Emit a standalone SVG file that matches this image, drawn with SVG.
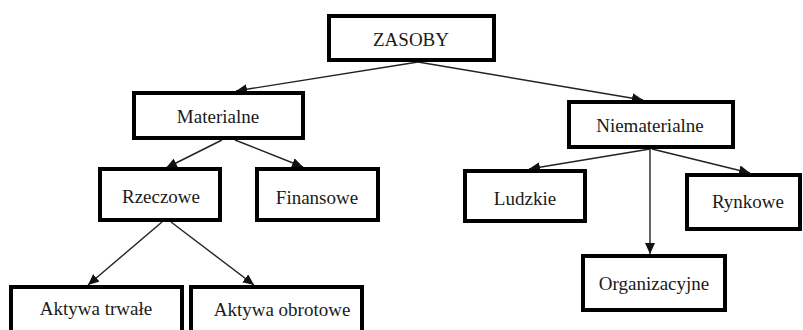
<svg xmlns="http://www.w3.org/2000/svg" width="803" height="330" viewBox="0 0 803 330">
  <style>
    .box { fill: #ffffff; stroke: #000000; stroke-width: 4; }
    .lbl { font-family: "Liberation Serif", "Times New Roman", Times, "DejaVu Serif", serif; font-size: 19px; fill: #1a1a1a; text-anchor: middle; }
    .edge { stroke: #222222; stroke-width: 1.4; fill: none; marker-end: url(#arrow); }
  </style>
  <defs>
    <marker id="arrow" markerUnits="userSpaceOnUse" markerWidth="12" markerHeight="10" refX="11" refY="5" orient="auto">
      <path d="M0,0 L11,5 L0,10 Z" fill="#111111"/>
    </marker>
  </defs>
  <rect width="803" height="330" fill="#ffffff"/>

  <g id="connectors">
    <line class="edge" x1="418" y1="62" x2="236" y2="91"/>
    <line class="edge" x1="418" y1="62" x2="643" y2="100"/>
    <line class="edge" x1="222" y1="140" x2="166" y2="168"/>
    <line class="edge" x1="235" y1="140" x2="303" y2="167"/>
    <line class="edge" x1="162" y1="222" x2="88" y2="285"/>
    <line class="edge" x1="171" y1="222" x2="254" y2="285"/>
    <line class="edge" x1="650" y1="149" x2="529" y2="169"/>
    <line class="edge" x1="652" y1="149" x2="750" y2="173"/>
    <line class="edge" x1="650" y1="149" x2="650" y2="254"/>
  </g>

  <g id="zasoby">
    <rect class="box" x="329" y="16" width="165" height="44"/>
    <text class="lbl" x="411" y="46">ZASOBY</text>
  </g>
  <g id="materialne">
    <rect class="box" x="134" y="93" width="169" height="45"/>
    <text class="lbl" x="218" y="123">Materialne</text>
  </g>
  <g id="rzeczowe">
    <rect class="box" x="100" y="169" width="120" height="51"/>
    <text class="lbl" x="161" y="203">Rzeczowe</text>
  </g>
  <g id="finansowe">
    <rect class="box" x="257" y="169" width="121" height="51"/>
    <text class="lbl" x="317" y="204">Finansowe</text>
  </g>
  <g id="aktywa-trwale">
    <rect class="box" x="11" y="287" width="171" height="60"/>
    <text class="lbl" x="96" y="315">Aktywa trwałe</text>
  </g>
  <g id="aktywa-obrotowe">
    <rect class="box" x="191" y="287" width="171" height="60"/>
    <text class="lbl" x="282" y="316">Aktywa obrotowe</text>
  </g>
  <g id="niematerialne">
    <rect class="box" x="569" y="102" width="164" height="45"/>
    <text class="lbl" x="650" y="132">Niematerialne</text>
  </g>
  <g id="ludzkie">
    <rect class="box" x="465" y="171" width="120" height="50"/>
    <text class="lbl" x="525" y="205">Ludzkie</text>
  </g>
  <g id="rynkowe">
    <rect class="box" x="687" y="175" width="113" height="54"/>
    <text class="lbl" x="748" y="208">Rynkowe</text>
  </g>
  <g id="organizacyjne">
    <rect class="box" x="583" y="256" width="142" height="54"/>
    <text class="lbl" x="654" y="290">Organizacyjne</text>
  </g>
</svg>
